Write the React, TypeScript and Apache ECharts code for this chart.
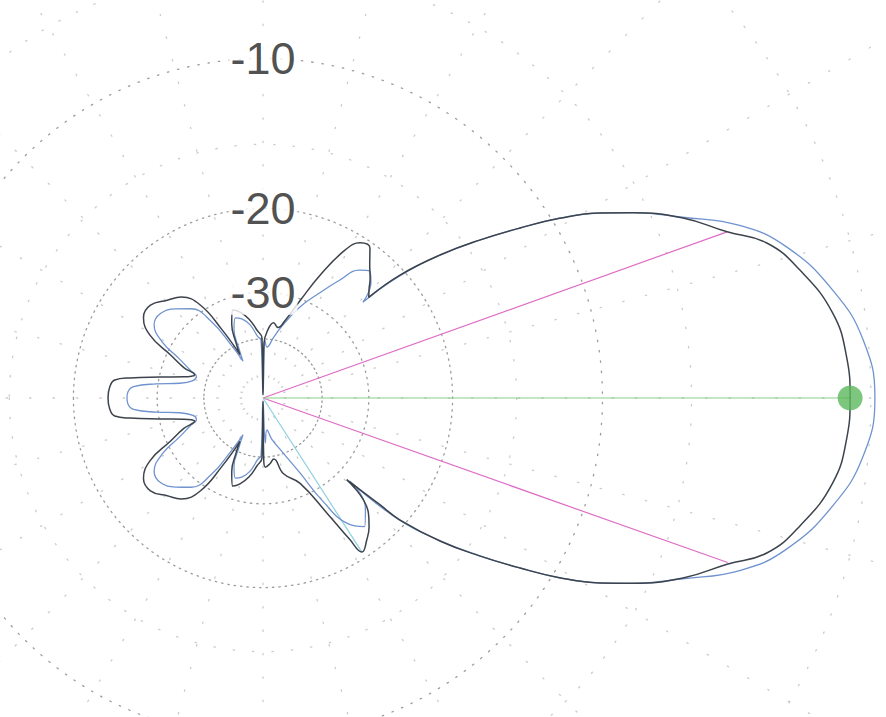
import React, { useEffect, useRef } from "react";
import * as echarts from "echarts";

// ARRL-style log polar scale: radius fraction = 0.89^(-dB/2)
const SCALE_BASE = 0.89;

// Pattern 1 (dark curve): angle in degrees (CCW from right), gain in dB
const blackAngles = [-180, -176, -173.1, -171.4, -168.5, -165, -163, -161.5, -159, -155, -151, -146, -140.5, -134.4, -129, -124, -121, -118, -116, -113, -109, -105, -100, -95, -91, -90, -89.3, -88, -84, -80, -75, -66.5, -60.9, -58.5, -57.3, -53.8, -50.5, -47.6, -44.3, -42.4, -41.7, -38.9, -36.1, -33.5, -31.2, -28.8, -26.6, -23.2, -19.7, -17.1, -13.4, -8.5, -4, 0, 4, 8.5, 13.4, 17.1, 19.7, 23.2, 26.6, 28.8, 31.2, 33.5, 36.1, 38.9, 41.9, 43.6, 46, 48, 51.3, 54.5, 58, 61, 65, 69, 74, 78, 82, 86, 89, 90, 91, 95, 100, 105, 109, 113, 116, 118, 121, 124, 129, 134.4, 140.5, 146, 151, 155, 159, 161.5, 163, 165, 168.5, 171.4, 173.1, 176, 180];
const blackGain = [-23.46, -23.6, -24.1, -25.9, -30.1, -34.4, -36.0, -36.6, -33.8, -30.6, -26.6, -24.7, -24.5, -25.6, -26.5, -29.0, -34.8, -43.2, -39.2, -34.8, -32.2, -33.0, -34.8, -37.6, -39.7, -90, -39, -37.3, -38.1, -39.2, -35.2, -32.2, -26.2, -22.3, -20.6, -21.3, -22.2, -23.3, -28.3, -23.1, -20.6, -16.83, -14.06, -11.67, -9.63, -7.89, -6.6, -4.9, -3.6, -2.45, -1.66, -0.93, -0.66, -0.6, -0.66, -0.93, -1.66, -2.45, -3.6, -4.9, -6.6, -7.89, -9.63, -11.67, -14.06, -16.83, -20.51, -24.48, -23.7, -22.9, -21.8, -20.5, -20.6, -21.97, -25.7, -30.1, -34.6, -36.6, -35.7, -37.6, -41.3, -90, -39.7, -37.6, -34.8, -33.0, -32.2, -34.8, -39.2, -43.2, -34.8, -29.0, -26.5, -25.6, -24.5, -24.7, -26.6, -30.6, -33.8, -36.6, -36.0, -34.4, -30.1, -25.9, -24.1, -23.6, -23.46];

// Pattern 2 (blue curve)
const blueAngles = [-180, -177.5, -175, -172.5, -170, -166, -162, -159, -155, -151, -146, -140.5, -134.4, -129, -124, -121, -118.5, -116, -113, -109, -105, -100, -95, -92, -90, -87, -83, -78, -70, -63.7, -60, -56.1, -51.7, -47, -43.8, -41.9, -38.9, -36.1, -33.5, -31.2, -28.8, -26.6, -23.3, -19.9, -16.1, -10.7, -5.5, 0, 5.5, 10.7, 16.1, 19.9, 23.3, 26.6, 28.8, 31.2, 33.5, 36.1, 38.9, 41.9, 43.8, 47, 50, 53, 56.9, 62, 67.9, 75, 80, 85.5, 88, 90, 92, 95, 100, 105, 109, 113, 116, 118.5, 121, 124, 129, 134.4, 140.5, 146, 151, 155, 159, 162, 166, 170, 172.5, 175, 177.5, 180];
const blueGain = [-25.7, -25.8, -26.5, -29.7, -33.8, -36.6, -37.1, -35.2, -32.4, -28.6, -26.3, -26.1, -27.2, -28.6, -32.4, -39.2, -45.9, -41.3, -36.1, -33.8, -34.4, -36.1, -39.2, -40.4, -90, -44.7, -50.5, -45.9, -40.3, -34.0, -28.1, -23.9, -22.5, -24.0, -27.8, -20.8, -16.9, -14.1, -11.7, -9.6, -7.9, -6.6, -4.9, -3.12, -1.88, -0.81, -0.14, 0.11, -0.14, -0.81, -1.88, -3.12, -4.9, -6.6, -7.9, -9.6, -11.7, -14.1, -16.9, -20.8, -25.4, -23.1, -22.3, -22.9, -25.1, -28.1, -31.3, -35.9, -39.2, -42.5, -40.4, -90, -40.4, -39.2, -36.1, -34.4, -33.8, -36.1, -41.3, -45.9, -39.2, -32.4, -28.6, -27.2, -26.1, -26.3, -28.6, -32.4, -35.2, -37.1, -36.6, -33.8, -29.7, -26.5, -25.8, -25.7];

// Markers
const peakAngle = 0;
const peakGain = -0.6;
const halfPowerAngles = [19.7, -19.5];
const halfPowerGain = -3.6;
const sideLobeAngle = -57.3;
const sideLobeGain = -20.6;

// Grid
const majorRingLevels = [-10, -20, -30, -40];
const minorRingLevels = [0, -6, -15];
const labelLevels = [-10, -20, -30];
const labelTexts = ["-10", "-20", "-30"];

const toR = (db: number) => Math.pow(SCALE_BASE, -db / 2);

const ringAngles: number[] = [];
for (let a = -180; a <= 180; a += 2) ringAngles.push(a);

const ringGap: Record<number, number> = { [-10]: 9, [-20]: 5, [-30]: 5, [-40]: 3.5 };

export default function App() {
  const ref = useRef<HTMLDivElement>(null);
  useEffect(() => {
    if (!ref.current) return;
    const chart = echarts.init(ref.current, undefined, { renderer: "svg" });
    const ringSeries = (lvl: number, major: boolean) => ({
      type: "line",
      coordinateSystem: "polar",
      data: ringAngles.map((a) => [toR(lvl), a]),
      symbol: "none",
      silent: true,
      z: 1,
      lineStyle: {
        color: major ? "#8a8a8a" : "#a8a8a8",
        width: 1.3,
        type: major ? [1.4, ringGap[lvl]] : [1.4, 18],
        cap: "round",
        opacity: major ? 0.85 : 0.6,
      },
    });
    const option: any = {
      animation: false,
      backgroundColor: "#ffffff",
      polar: { center: [263, 398], radius: 912 },
      angleAxis: {
        type: "value",
        min: -180,
        max: 180,
        interval: 15,
        startAngle: 180,
        clockwise: false,
        axisLine: { show: false },
        axisTick: { show: false },
        axisLabel: { show: false },
        splitLine: {
          show: true,
          lineStyle: { color: "#b5b5b5", width: 1.3, type: [1.4, 22], cap: "round", opacity: 0.7 },
        },
      },
      radiusAxis: {
        type: "value",
        min: 0,
        max: 1.5,
        axisLine: { show: false },
        axisTick: { show: false },
        axisLabel: { show: false },
        splitLine: { show: false },
      },
      series: [
        ...majorRingLevels.map((l) => ringSeries(l, true)),
        ...minorRingLevels.map((l) => ringSeries(l, false)),
        {
          type: "line",
          coordinateSystem: "polar",
          data: [
            [toR(halfPowerGain), halfPowerAngles[0]],
            [0, 0],
            [toR(halfPowerGain), halfPowerAngles[1]],
          ],
          symbol: "none",
          z: 3,
          lineStyle: { color: "#de6cc6", width: 1.2 },
        },
        {
          type: "line",
          coordinateSystem: "polar",
          data: [
            [0, 0],
            [toR(sideLobeGain), sideLobeAngle],
          ],
          symbol: "none",
          z: 3,
          lineStyle: { color: "#8fd0e0", width: 1.2 },
        },
        {
          type: "line",
          coordinateSystem: "polar",
          data: [
            [0, 0],
            [toR(peakGain), peakAngle],
          ],
          symbol: "none",
          z: 3,
          lineStyle: { color: "#86cf86", width: 1.2 },
        },
        {
          type: "line",
          coordinateSystem: "polar",
          data: blueAngles.map((a, i) => [toR(blueGain[i]), a]),
          symbol: "none",
          smooth: 0.45,
          z: 4,
          lineStyle: { color: "#6f93cf", width: 1.3 },
        },
        {
          type: "line",
          coordinateSystem: "polar",
          data: blackAngles.map((a, i) => [toR(blackGain[i]), a]),
          symbol: "none",
          smooth: 0.45,
          z: 5,
          lineStyle: { color: "#3d434c", width: 1.5 },
        },
        {
          type: "scatter",
          coordinateSystem: "polar",
          data: [[toR(peakGain), peakAngle]],
          symbol: "circle",
          symbolSize: 25,
          z: 6,
          itemStyle: { color: "#5cb85c" },
        },
        {
          type: "scatter",
          coordinateSystem: "polar",
          data: labelLevels.map((l, i) => ({ value: [toR(l), 90], name: labelTexts[i] })),
          symbolSize: 1,
          z: 7,
          itemStyle: { color: "rgba(255,255,255,0)" },
          label: {
            show: true,
            position: "inside",
            formatter: "{b}",
            fontFamily: "'Liberation Sans', Arial, sans-serif",
            fontSize: 45,
            color: "#222222",
            backgroundColor: "#ffffff",
            padding: [0, 2],
          },
        },
      ],
    };
    chart.setOption(option);
    return () => chart.dispose();
  }, []);
  return (
    <div
      ref={ref}
      style={{ position: "absolute", left: 0, top: 0, width: 886, height: 717, background: "#fff" }}
    />
  );
}
